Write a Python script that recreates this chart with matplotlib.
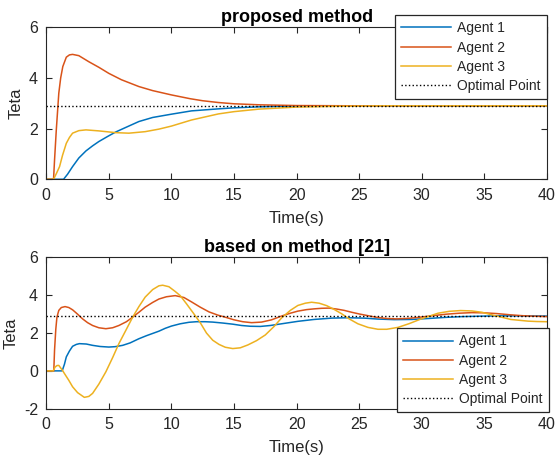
import numpy as np
import matplotlib.pyplot as plt

plt.rcParams['font.family'] = ['Liberation Sans', 'DejaVu Sans']
plt.rcParams['axes.unicode_minus'] = False

# ---- proposed method (top) ----
t1_top = [0, 1.38, 1.7, 2.1, 2.6, 3.17, 3.7, 4.2, 4.9, 5.56, 6.5, 7.4, 8.5, 10, 11.6,
          13.75, 15, 17, 20, 25, 40]
a1_top = [0, 0, 0.2, 0.5, 0.84, 1.12, 1.32, 1.49, 1.69, 1.87, 2.08, 2.28, 2.44, 2.57, 2.7,
          2.78, 2.82, 2.86, 2.89, 2.9, 2.9]

t2_top = [0, 0.58, 0.66, 0.8, 1.0, 1.15, 1.32, 1.6, 1.85, 2.1, 2.6, 3.4, 4.2, 5.0, 6.0,
          7.4, 8.5, 10, 11.5, 12.5, 13.75, 15, 17, 20, 25, 30, 40]
a2_top = [0, 0, 0.76, 1.95, 3.4, 4.0, 4.45, 4.82, 4.91, 4.93, 4.88, 4.64, 4.42, 4.18, 3.93,
          3.66, 3.5, 3.33, 3.18, 3.1, 3.03, 2.98, 2.94, 2.91, 2.9, 2.9, 2.9]

t3_top = [0, 0.58, 0.8, 1.06, 1.3, 1.6, 1.85, 2.1, 2.6, 3.17, 4.2, 5.56, 6.6, 7.9, 9, 10,
          11.6, 13.75, 15, 17, 20, 23, 27, 40]
a3_top = [0, 0, 0.22, 0.5, 0.95, 1.42, 1.65, 1.82, 1.92, 1.95, 1.91, 1.84, 1.82, 1.88, 1.98, 2.1,
          2.34, 2.58, 2.67, 2.77, 2.85, 2.88, 2.9, 2.9]

# ---- based on method [21] (bottom) ----
t1_bot = [0, 1.27, 1.45, 1.6, 1.85, 2.1, 2.4, 2.65, 3.2, 3.7, 4.3, 5.0, 5.5, 6.1, 6.7, 7.4,
          8.0, 8.5, 9.0, 9.5, 10.0, 10.7, 11.4, 12.0, 12.7, 13.3, 14.1, 14.9, 15.6, 16.3, 17.1,
          17.9, 18.8, 19.5, 20.1, 21.4, 22.8, 24.1, 25.4, 26.5, 27.8, 29.2, 30.5, 31.9, 33.2,
          34.5, 36.0, 37.5, 40]
a1_bot = [0, 0, 0.35, 0.74, 1.05, 1.3, 1.4, 1.44, 1.42, 1.35, 1.29, 1.26, 1.28, 1.35, 1.48, 1.7,
          1.86, 1.98, 2.1, 2.25, 2.37, 2.49, 2.57, 2.6, 2.6, 2.58, 2.53, 2.47, 2.4, 2.36, 2.35,
          2.4, 2.49, 2.56, 2.62, 2.72, 2.79, 2.81, 2.79, 2.74, 2.71, 2.72, 2.77, 2.83, 2.87,
          2.89, 2.91, 2.91, 2.9]

t2_bot = [0, 0.6, 0.66, 0.76, 0.85, 1.0, 1.2, 1.5, 1.8, 2.1, 2.5, 2.9, 3.3, 3.7, 4.2, 4.76,
          5.3, 5.8, 6.4, 6.9, 7.4, 7.9, 8.5, 9.0, 9.6, 10.3, 11.0, 11.6, 12.3, 13.0, 13.7, 14.4,
          15.0, 15.7, 16.4, 17.2, 18.0, 18.8, 19.5, 20.1, 20.8, 21.4, 22.0, 22.6, 23.2, 23.8,
          24.4, 25.0, 25.7, 26.4, 27.2, 28.0, 29.0, 30.0, 31.0, 32.0, 33.0, 34.0, 35.0, 36.0,
          37.0, 38.0, 39.0, 40]
a2_bot = [0, 0, 1.1, 2.2, 2.84, 3.2, 3.35, 3.4, 3.35, 3.23, 3.0, 2.75, 2.55, 2.4, 2.28, 2.23,
          2.28, 2.4, 2.6, 2.84, 3.1, 3.37, 3.62, 3.8, 3.92, 3.98, 3.88, 3.65, 3.37, 3.12, 2.95, 2.82,
          2.7, 2.6, 2.55, 2.58, 2.7, 2.9, 3.05, 3.16, 3.24, 3.28, 3.31, 3.32, 3.27, 3.2,
          3.1, 3.01, 2.92, 2.83, 2.77, 2.75, 2.78, 2.85, 2.93, 3.0, 3.05, 3.08, 3.07, 3.03,
          2.97, 2.92, 2.89, 2.87]

t3_bot = [0, 0.55, 0.7, 0.85, 1.0, 1.1, 1.3, 1.45, 1.8, 2.1, 2.5, 3.04, 3.4, 3.7, 4.2, 4.76,
          5.3, 5.8, 6.4, 6.9, 7.4, 7.9, 8.5, 9.0, 9.3, 9.8, 10.3, 10.7, 11.2, 11.7, 12.3, 12.8,
          13.3, 13.8, 14.3, 14.9, 15.5, 16.1, 16.8, 17.5, 18.2, 18.8, 19.5, 20.1, 20.7, 21.2,
          21.8, 22.4, 23.0, 23.6, 24.2, 24.9, 25.7, 26.5, 27.2, 28.1, 29.0, 30.0, 31.3, 32.2,
          33.1, 34.0, 34.8, 35.8, 36.5, 37.1, 38.5, 39.2, 40]
a3_bot = [0, 0, 0.2, 0.28, 0.29, 0.2, 0.02, -0.14, -0.5, -0.84, -1.15, -1.4, -1.35, -1.19, -0.7, -0.05,
          0.7, 1.44, 2.2, 2.84, 3.4, 3.9, 4.3, 4.5, 4.53, 4.45, 4.2, 3.98, 3.55, 3.1, 2.55, 2.0,
          1.62, 1.4, 1.25, 1.18, 1.22, 1.37, 1.6, 1.9, 2.35, 2.8, 3.2, 3.46, 3.58, 3.63,
          3.58, 3.45, 3.25, 3.02, 2.75, 2.49, 2.3, 2.2, 2.2, 2.3, 2.5, 2.76, 3.05, 3.15,
          3.19, 3.17, 3.1, 2.93, 2.82, 2.72, 2.63, 2.61, 2.6]

optimal = 2.9
labels = ['Agent 1', 'Agent 2', 'Agent 3', 'Optimal Point']
colors = ['#0072BD', '#D95319', '#EDB120']
gray = '#262626'

fig = plt.figure(figsize=(5.57, 4.57), dpi=100)
ax1 = fig.add_axes([0.0831, 0.6077, 0.8988, 0.3326])
ax2 = fig.add_axes([0.0831, 0.1057, 0.8988, 0.331])


def style(ax, title, ylim, yticks, ylabel_x):
    ax.set_xlim(0, 40)
    ax.set_ylim(*ylim)
    ax.set_xticks(range(0, 41, 5))
    ax.set_yticks(yticks)
    ax.tick_params(direction='in', length=4, width=0.8, colors=gray, labelsize=11.5,
                   top=True, right=True, pad=6)
    for s in ax.spines.values():
        s.set_color(gray)
        s.set_linewidth(0.8)
    ax.set_xlabel('Time(s)', fontsize=12, color=gray, labelpad=6)
    ax.set_ylabel('Teta', fontsize=12, color=gray)
    ax.yaxis.set_label_coords(ylabel_x, 0.5)
    ax.set_title(title, fontsize=13, fontweight='bold', pad=4)


lw = 1.1
ax1.plot(t1_top, a1_top, color=colors[0], lw=lw, label=labels[0])
ax1.plot(t2_top, a2_top, color=colors[1], lw=lw, label=labels[1])
ax1.plot(t3_top, a3_top, color=colors[2], lw=lw, label=labels[2])
ax1.plot([0, 40], [optimal, optimal], color='k', ls=':', lw=1.0, label=labels[3])
style(ax1, 'proposed method', (0, 6), [0, 2, 4, 6], -0.046)

ax2.plot(t1_bot, a1_bot, color=colors[0], lw=lw, label=labels[0])
ax2.plot(t2_bot, a2_bot, color=colors[1], lw=lw, label=labels[1])
ax2.plot(t3_bot, a3_bot, color=colors[2], lw=lw, label=labels[2])
ax2.plot([0, 40], [optimal, optimal], color='k', ls=':', lw=1.0, label=labels[3])
style(ax2, 'based on method [21]', (-2, 6), [-2, 0, 2, 4, 6], -0.056)

leg_kw = dict(fontsize=10, frameon=True, fancybox=False, framealpha=1, edgecolor=gray,
              handlelength=3.6, labelspacing=0.38, borderpad=0.45, handletextpad=0.45,
              borderaxespad=0)
l1 = ax1.legend(loc='upper right', bbox_to_anchor=(0.982, 0.967),
                bbox_transform=fig.transFigure, **leg_kw)
l2 = ax2.legend(loc='upper right', bbox_to_anchor=(0.9856, 0.282),
                bbox_transform=fig.transFigure, **leg_kw)
for l in (l1, l2):
    l.get_frame().set_linewidth(0.9)
    for txt in l.get_texts():
        txt.set_color(gray)

fig.savefig('out.png', dpi=100)
